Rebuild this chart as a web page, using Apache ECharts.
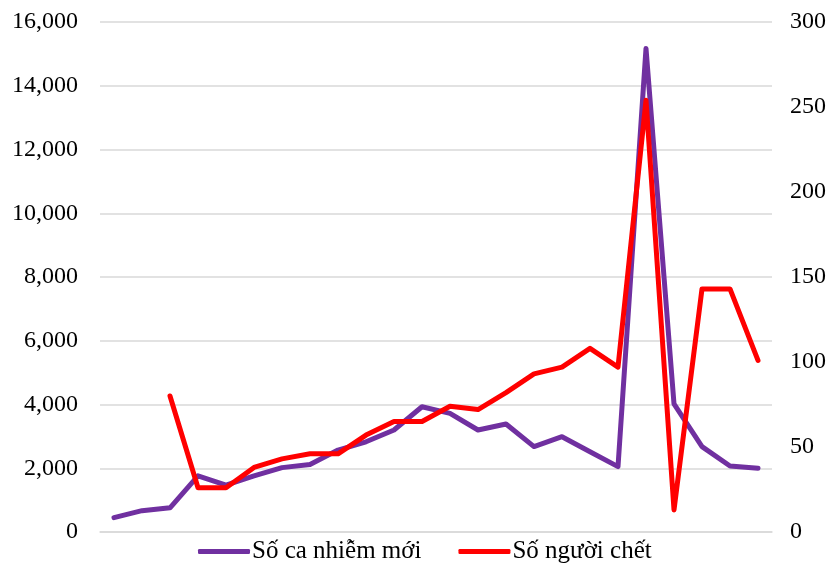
<!DOCTYPE html>
<html lang="vi">
<head>
    <meta charset="UTF-8">
    <title>Số ca nhiễm mới và số người chết</title>
    <script src="https://cdn.jsdelivr.net/npm/echarts@6/dist/echarts.min.js"></script>
    <style>
        html, body { margin: 0; padding: 0; background: #fff; }
        #main { width: 831px; height: 575px; }
    </style>
</head>
<body>
    <div id="main"></div>
    <script>
        // dữ liệu
        var categories = ['1', '2', '3', '4', '5', '6', '7', '8', '9', '10', '11', '12',
            '13', '14', '15', '16', '17', '18', '19', '20', '21', '22', '23', '24'];
        var newCases = [450, 670, 760, 1760, 1470, 1760, 2020, 2120, 2570, 2830, 3200, 3930,
            3720, 3200, 3390, 2680, 2990, 2520, 2050, 15170, 4020, 2680, 2070, 2000];
        var deaths = [null, null, 80, 26, 26, 38, 43, 46, 46, 57, 65, 65,
            74, 72, 82, 93, 97, 108, 97, 254, 13, 143, 143, 101];
        var leftTicks = { min: 0, max: 16000, interval: 2000 };
        var rightTicks = { min: 0, max: 300, interval: 50 };

        var font = '"Liberation Serif", "Times New Roman", serif';
        var chart = echarts.init(document.getElementById('main'));
        var option = {
            animation: false,
            textStyle: { fontFamily: font },
            grid: { left: 100, right: 59, top: 22, bottom: 43 },
            legend: {
                top: 534,
                left: 193,
                padding: 5,
                itemWidth: 52,
                itemHeight: 5,
                itemGap: 37,
                icon: 'roundRect',
                textStyle: { fontFamily: font, fontSize: 25, color: '#000', padding: [0, 0, 0, -3] },
                data: ['Số ca nhiễm mới', 'Số người chết']
            },
            xAxis: {
                type: 'category',
                data: categories,
                boundaryGap: true,
                axisLine: { show: true, lineStyle: { color: '#d9d9d9', width: 1.5 } },
                axisTick: { show: false },
                axisLabel: { show: false }
            },
            yAxis: [{
                type: 'value',
                min: leftTicks.min,
                max: leftTicks.max,
                interval: leftTicks.interval,
                axisLine: { show: false },
                axisTick: { show: false },
                axisLabel: {
                    margin: 22,
                    fontSize: 24,
                    color: '#000',
                    fontFamily: font,
                    formatter: function (v) { return v.toLocaleString('en-US'); }
                },
                splitLine: { lineStyle: { color: '#d9d9d9', width: 1.5 } }
            }, {
                type: 'value',
                position: 'right',
                min: rightTicks.min,
                max: rightTicks.max,
                interval: rightTicks.interval,
                axisLine: { show: false },
                axisTick: { show: false },
                axisLabel: { margin: 18, fontSize: 24, color: '#000', fontFamily: font },
                splitLine: { show: false }
            }],
            series: [{
                name: 'Số ca nhiễm mới',
                type: 'line',
                data: newCases,
                yAxisIndex: 0,
                symbol: 'none',
                lineStyle: { color: '#7030a0', width: 5, cap: 'round', join: 'round' },
                itemStyle: { color: '#7030a0' }
            }, {
                name: 'Số người chết',
                type: 'line',
                data: deaths,
                yAxisIndex: 1,
                symbol: 'none',
                lineStyle: { color: '#ff0000', width: 5, cap: 'round', join: 'round' },
                itemStyle: { color: '#ff0000' },
                z: 3
            }]
        };
        chart.setOption(option);
    </script>
</body>
</html>
